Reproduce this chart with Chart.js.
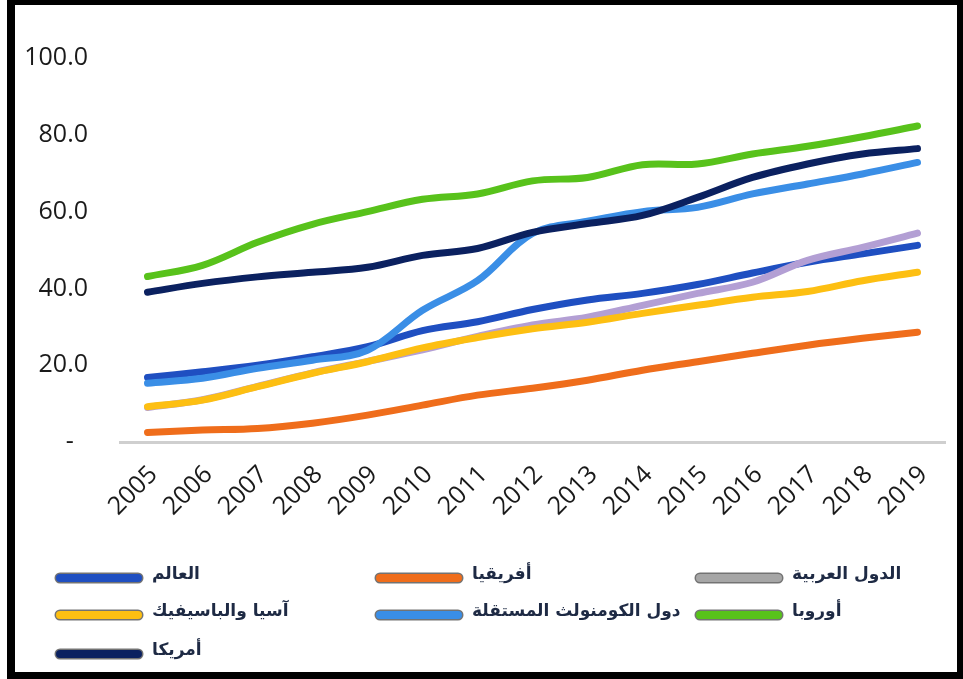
<!DOCTYPE html>
<html>
<head>
<meta charset="utf-8">
<script src="https://cdn.jsdelivr.net/npm/chart.js@4"></script>
<style>
  html, body { margin: 0; padding: 0; background: #fff; }
  #frame {
    position: absolute; left: 7px; top: 0;
    width: 942px; height: 667px;
    border-style: solid; border-color: #000;
    border-width: 5px 6px 7px 8px;
    background: #fff;
  }
  #lineChart { display: block; }
</style>
</head>
<body>
<div id="frame"><canvas id="lineChart" width="942" height="667"></canvas></div>
<script>
const years = ["2005", "2006", "2007", "2008", "2009", "2010", "2011", "2012", "2013", "2014", "2015", "2016", "2017", "2018", "2019"];

const world   = [16.8, 18.3, 20.0, 22.2, 24.8, 29.0, 31.3, 34.5, 37.0, 38.7, 41.0, 44.0, 46.8, 49.0, 51.2];
const africa  = [2.5, 3.1, 3.5, 4.9, 7.0, 9.6, 12.2, 14.0, 16.1, 18.7, 20.9, 23.1, 25.2, 27.0, 28.6];
const arab    = [9.0, 11.0, 14.5, 18.0, 21.0, 24.0, 27.5, 30.5, 32.5, 35.6, 38.7, 41.6, 47.3, 50.7, 54.4];
const asia    = [9.2, 10.9, 14.4, 17.9, 20.9, 24.5, 27.2, 29.5, 31.2, 33.5, 35.6, 37.7, 39.2, 42.0, 44.2];
const cis     = [15.3, 16.6, 19.2, 21.3, 23.9, 34.3, 42.0, 54.3, 57.5, 60.0, 61.1, 64.6, 67.2, 69.8, 72.8];
const europe  = [43.1, 46.0, 52.0, 56.7, 60.0, 63.2, 64.6, 68.0, 68.9, 72.2, 72.4, 75.0, 77.0, 79.5, 82.3];
const america = [39.0, 41.3, 43.0, 44.2, 45.5, 48.6, 50.4, 54.6, 56.9, 59.0, 63.7, 68.9, 72.4, 75.0, 76.4];

const seriesNames  = ["العالم", "أفريقيا", "الدول العربية", "آسيا والباسيفيك", "دول الكومنولث المستقلة", "أوروبا", "أمريكا"];
const seriesData   = [world, africa, arab, asia, cis, europe, america];
const lineColors   = ["#1f4fc1", "#ef6d1b", "#b39fd4", "#fdbf12", "#3a8ee6", "#58c21b", "#0b2160"];
const legendColors = ["#1f4fc1", "#ef6d1b", "#a6a6a6", "#fdbf12", "#3a8ee6", "#58c21b", "#0b2160"];

const yTicks = [0, 20, 40, 60, 80, 100];

// legend drawn as a 3-column grid under the axis
const gridLegend = {
    id: "gridLegend",
    afterDraw(chart) {
        const ctx = chart.ctx;
        const colX = [45, 365, 685];
        const rowY = [573, 610, 649];
        ctx.save();
        ctx.font = "bold 17px 'DejaVu Sans'";
        ctx.textBaseline = "middle";
        ctx.textAlign = "left";
        chart.data.datasets.forEach((ds, i) => {
            const x = colX[i % 3];
            const y = rowY[Math.floor(i / 3)];
            ctx.lineCap = "round";
            ctx.strokeStyle = "rgba(0,0,0,0.55)";
            ctx.lineWidth = 11;
            ctx.beginPath(); ctx.moveTo(x, y); ctx.lineTo(x + 78, y); ctx.stroke();
            ctx.strokeStyle = legendColors[i];
            ctx.lineWidth = 8;
            ctx.beginPath(); ctx.moveTo(x, y); ctx.lineTo(x + 78, y); ctx.stroke();
            ctx.fillStyle = "#1e2a44";
            ctx.fillText(ds.label, x + 92, y - 3);
        });
        ctx.restore();
    }
};

const datasets = seriesNames.map((name, i) => ({
    label: name,
    data: seriesData[i],
    borderColor: lineColors[i],
    backgroundColor: lineColors[i],
    borderWidth: 7,
    borderCapStyle: "round",
    tension: 0.35,
    pointRadius: 0,
    order: -i  // later series on top
}));

new Chart(document.getElementById("lineChart"), {
    type: "line",
    data: { labels: years, datasets: datasets },
    options: {
        responsive: false,
        animation: false,
        layout: { padding: { top: 53, right: 12, left: 0, bottom: 0 } },
        plugins: {
            legend: { display: false },
            tooltip: { enabled: false }
        },
        scales: {
            x: {
                offset: true,
                grid: { display: false },
                border: { display: true, color: "#cfcfcf", width: 3 },
                ticks: {
                    minRotation: 45,
                    maxRotation: 45,
                    padding: 10,
                    labelOffset: 6,
                    color: "#1a1a1a",
                    font: { family: "'Open Sans'", size: 25 }
                },
                afterFit(scale) { scale.height = 230; }
            },
            y: {
                min: 0,
                max: 100,
                afterBuildTicks(scale) { scale.ticks = yTicks.map(v => ({ value: v })); },
                grid: { display: false },
                border: { display: false },
                ticks: {
                    padding: 24,
                    color: "#1a1a1a",
                    font: { family: "'Open Sans'", size: 25 },
                    callback: v => v === 0 ? "-\u2007" : v.toFixed(1)
                },
                afterFit(scale) { scale.width = 105; }
            }
        }
    },
    plugins: [gridLegend]
});
</script>
</body>
</html>
